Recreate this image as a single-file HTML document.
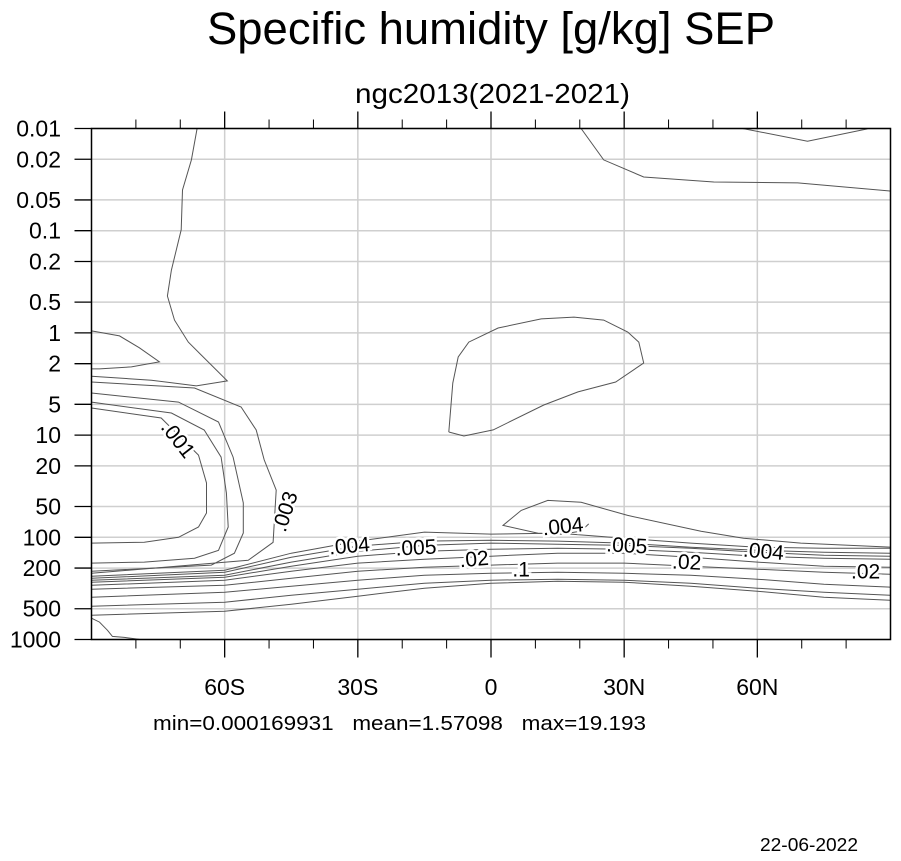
<!DOCTYPE html>
<html><head><meta charset="utf-8"><style>
html,body{margin:0;padding:0;background:#fff;}
svg{display:block;font-family:"Liberation Sans",Arial,sans-serif;}
</style></head><body>
<svg id="chart" width="901" height="861" viewBox="0 0 901 861" xmlns="http://www.w3.org/2000/svg">
<text x="207" y="44" font-size="45" textLength="568" lengthAdjust="spacingAndGlyphs">Specific humidity [g/kg] SEP</text>
<text x="355" y="103" font-size="28" textLength="275" lengthAdjust="spacingAndGlyphs">ngc2013(2021-2021)</text>
<g id="grid"></g>
<g id="contours"></g>
<g id="labels"></g>
<g id="axes"></g>
<text x="153" y="730" font-size="20" xml:space="preserve" style="white-space:pre" textLength="493" lengthAdjust="spacingAndGlyphs">min=0.000169931   mean=1.57098   max=19.193</text>
<text x="760" y="851" font-size="18" textLength="98" lengthAdjust="spacingAndGlyphs">22-06-2022</text>
</svg>
<script>
const pressureTicks = [0.01,0.02,0.05,0.1,0.2,0.5,1,2,5,10,20,50,100,200,500,1000];
const pressureTickLabels = ["0.01","0.02","0.05","0.1","0.2","0.5","1","2","5","10","20","50","100","200","500","1000"];
const latTicks = [-60,-30,0,30,60];
const latTickLabels = ["60S","30S","0","30N","60N"];
const latMinorTicks = [-80,-70,-50,-40,-20,-10,10,20,40,50,70,80];

const bandLats = [-90,-60,-45,-30,-15,0,15,30,45,60,75,90];
const band1 = [241,210,143,109,89,93,91,102,114,125,128,128];
const band2 = [252,220,157,122,109,107,109,114,125,134,140,143];
const band3 = [263,235,175,137,120,114,117,120,128,140,150,153];
const band4 = [275,246,192,153,137,131,128,131,140,153,160,164];
const band5 = [295,263,215,179,164,153,143,143,157,175,192,196];
const band6 = [322,295,252,215,196,187,179,179,192,205,220,230];
const band7 = [386,345,301,263,235,225,220,225,235,257,288,308];
const band8 = [472,432,369,322,282,263,257,263,282,315,345,369];
const band9 = [578,528,452,377,315,282,269,275,301,337,386,413];

const contourA = [[-66.2,0.01],[-67.5,0.0203],[-69.5,0.04],[-69.8,0.098],[-72,0.243],[-72.9,0.435],[-71.3,0.75],[-68.2,1.23],[-65.3,1.64],[-59.4,2.95],[-66.4,3.3],[-76.5,2.9],[-90,2.65]];
const contourB = [[-90,0.957],[-83.7,1.07],[-79.2,1.4],[-74.7,1.92],[-81,2.15],[-88.2,2.25],[-90,2.25]];
const contourC1 = [[-90,5.43],[-74.3,6.8],[-65.9,15.7],[-64.1,29.4],[-64.1,57.8],[-65.9,79.3],[-70.4,100],[-78.1,112],[-90,114]];
const contourC2 = [[-90,4.75],[-72,6.08],[-64.6,8.92],[-60.8,16.4],[-59.6,36.8],[-59.2,79.3],[-61.4,134],[-66.8,160],[-78.1,175],[-90,179]];
const contourC3 = [[-90,3.87],[-70.4,4.75],[-61.4,7.45],[-58.1,16.4],[-55.8,46.1],[-55.8,90.8],[-57.8,143],[-63,187],[-90,215]];
const contourC4 = [[-90,3.02],[-66.8,3.46],[-56.3,5.31],[-52.9,8.92],[-51.1,17.5],[-48.4,34.5],[-49.1,112],[-54.7,168],[-90,225]];
const contourMid = [[-9.5,9.33],[-8.6,3.09],[-7.4,1.72],[-5,1.23],[1.6,0.895],[11.3,0.73],[18.7,0.7],[25.4,0.75],[30.8,0.98],[33.3,1.23],[34.4,1.97],[28.1,3.02],[19.6,3.78],[11.9,5.07],[0.5,8.9],[-6.1,10.2],[-9.5,9.33]];
const contourTop1 = [[20.3,0.01],[25.4,0.0203],[34.4,0.0298],[50.2,0.0334],[69.1,0.0341],[90,0.041]];
const contourTop2 = [[56.7,0.01],[71.3,0.0133],[84.8,0.0101]];
const contourBubble = [[90,125],[69.8,114],[56.9,102],[47.3,87.3],[30.8,61],[20.3,45.5],[12.8,43.5],[6.8,54.5],[2.7,76.5],[10.6,91.3],[15.8,93.3],[20.3,87],[22,74]];
const contourSfc = [[-90,619],[-88.2,676],[-86.4,812],[-85.3,932],[-82.6,953],[-79.2,998]];

const labelText = [".001",".003",".004",".005",".02",".1",".004",".005",".02",".004",".02"];
const labelLat = [-70.5,-46.4,-31.9,-16.9,-3.8,6.8,16.2,30.6,44.1,61.4,84.4];
const labelP = [11,56,121,126,163,207,78,120,175,137,216];
const labelRot = [52,-72,-5,-3,-5,0,-6,3,3,5,0];

const X0=91.5, X1=890.5, Y0=128.5, Y1=639.5;
const xs = lat => X0 + (lat+90)/180*(X1-X0);
const ys = p => Y0 + (Math.log10(p)+2)/5*(Y1-Y0);
const NS="http://www.w3.org/2000/svg";
function mk(tag, parent, attrs){const e=document.createElementNS(NS,tag);for(const k in attrs)e.setAttribute(k,attrs[k]);parent.appendChild(e);return e;}

const grid=document.getElementById('grid');
pressureTicks.forEach(p=>{
  const l=mk('line',grid,{x1:X0,x2:X1,y1:ys(p),y2:ys(p),stroke:'#cfcfcf','stroke-width':1.5});
  
  
});
latTicks.forEach(t=>{
  const l=mk('line',grid,{x1:xs(t),x2:xs(t),y1:Y0,y2:Y1,stroke:'#cfcfcf','stroke-width':1.5});
  
  
});

const cg=document.getElementById('contours');
function pathFrom(pts){return pts.map((q,i)=>(i?'L':'M')+xs(q[0]).toFixed(1)+','+ys(q[1]).toFixed(1)).join(' ');}
const bands=[band1,band2,band3,band4,band5,band6,band7,band8,band9];
bands.forEach((b,i)=>{
  const pts=bandLats.map((la,j)=>[la,b[j]]);
  const e=mk('path',cg,{d:pathFrom(pts),fill:'none',stroke:'#555','stroke-width':1});
  
  
});
const others={'contour-a':contourA,'contour-b':contourB,'contour-c1':contourC1,'contour-c2':contourC2,'contour-c3':contourC3,'contour-c4':contourC4,'contour-mid-loop':contourMid,'contour-top-1':contourTop1,'contour-top-2':contourTop2,'contour-bubble':contourBubble,'contour-surface':contourSfc};
for(const k in others){
  const e=mk('path',cg,{d:pathFrom(others[k]),fill:'none',stroke:'#555','stroke-width':1});
  
  
}

const lg=document.getElementById('labels');
labelText.forEach((t,i)=>{
  const x=xs(labelLat[i]), y=ys(labelP[i]);
  const e=mk('text',lg,{x:x,y:y+7,'font-size':21,'text-anchor':'middle',transform:`rotate(${labelRot[i]} ${x} ${y})`,stroke:'#fff','stroke-width':5,'paint-order':'stroke',fill:'#000'});
  e.textContent=t;
  
  
});

const ax=document.getElementById('axes');
const fr=mk('rect',ax,{x:X0,y:Y0,width:X1-X0,height:Y1-Y0,fill:'none',stroke:'#000','stroke-width':1.5});


pressureTicks.forEach((p,i)=>{
  const tk=mk('line',ax,{x1:X0-17,x2:X0,y1:ys(p),y2:ys(p),stroke:'#000','stroke-width':1.3});
  
  
  const tx=mk('text',ax,{x:61,y:ys(p)+8,'font-size':23,'text-anchor':'end'});
  tx.textContent=pressureTickLabels[i];
  
  
});
latTicks.forEach((t,i)=>{
  const a=mk('line',ax,{x1:xs(t),x2:xs(t),y1:Y0-17,y2:Y0,stroke:'#000','stroke-width':1.3});
  
  
  const b=mk('line',ax,{x1:xs(t),x2:xs(t),y1:Y1,y2:Y1+18,stroke:'#000','stroke-width':1.3});
  
  
  const tx=mk('text',ax,{x:xs(t),y:695,'font-size':23,'text-anchor':'middle'});
  tx.textContent=latTickLabels[i];
  
  
});
latMinorTicks.forEach(t=>{
  const a=mk('line',ax,{x1:xs(t),x2:xs(t),y1:Y0-9,y2:Y0,stroke:'#000','stroke-width':1});
  
  
  const b=mk('line',ax,{x1:xs(t),x2:xs(t),y1:Y1,y2:Y1+9,stroke:'#000','stroke-width':1});
  
  
});
</script>
</body></html>
